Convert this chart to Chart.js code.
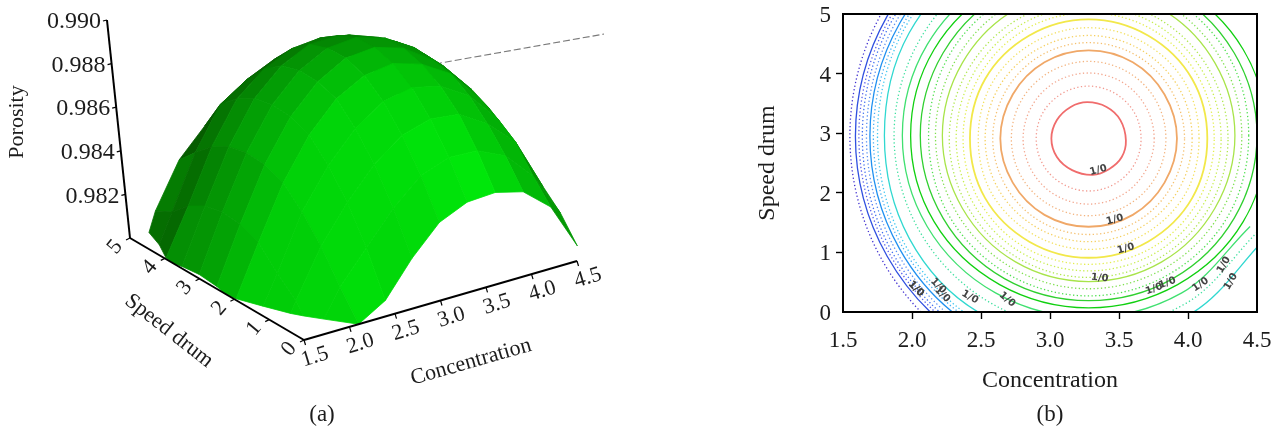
<!DOCTYPE html>
<html><head><meta charset="utf-8">
<style>
html,body{margin:0;padding:0;background:#fff;width:1273px;height:427px;overflow:hidden}
canvas{position:absolute;top:0}
#surface{left:0}
#contour{left:620px}
</style>
<script src="https://cdn.jsdelivr.net/npm/chart.js@4/dist/chart.umd.js"></script>
</head><body>
<canvas id="surface" width="620" height="427"></canvas>
<canvas id="contour" width="653" height="427"></canvas>
<script>
// ---------- panel (a): porosity ----------
const concentration = [1.5,1.8,2.1,2.4,2.7,3.0,3.3,3.6,3.9,4.2,4.5];
const speedDrum = [0,0.5,1,1.5,2,2.5,3,3.5,4,4.5,5];
const porosityS00 = [.97550,.97801,.98000,.98073,.98230,.98358,.98415,.98423,.98390,.98284,.98069];
const porosityS05 = [.97700,.97930,.98124,.98268,.98413,.98525,.98573,.98568,.98508,.98378,.98174];
const porosityS10 = [.97820,.98050,.98264,.98428,.98568,.98665,.98703,.98688,.98608,.98488,.98248];
const porosityS15 = [.97910,.98130,.98376,.98550,.98685,.98772,.98800,.98770,.98690,.98548,.98320];
const porosityS20 = [.97985,.98224,.98460,.98644,.98774,.98845,.98864,.98824,.98744,.98594,.98399];
const porosityS25 = [.98012,.98261,.98497,.98681,.98806,.98878,.98891,.98851,.98761,.98626,.98463];
const porosityS30 = [.98020,.98270,.98506,.98690,.98810,.98877,.98890,.98850,.98770,.98650,.98505];
const porosityS35 = [.98010,.98251,.98487,.98671,.98786,.98848,.98851,.98801,.98751,.98656,.98511];
const porosityS40 = [.97990,.98204,.98440,.98624,.98724,.98781,.98794,.98771,.98724,.98624,.98464];
const porosityS45 = [.97900,.98130,.98366,.98550,.98630,.98687,.98710,.98710,.98660,.98550,.98390];
const porosityS50 = [.97800,.98088,.98285,.98405,.98505,.98563,.98600,.98621,.98568,.98448,.98288];
const porosityGrid = [porosityS00,porosityS05,porosityS10,porosityS15,porosityS20,porosityS25,porosityS30,porosityS35,porosityS40,porosityS45,porosityS50];
const porosityTicks = [0.982,0.984,0.986,0.988,0.990];
const concTicks = [1.5,2.0,2.5,3.0,3.5,4.0,4.5];
const speedTicks = [0,1,2,3,4,5];
const leaderX = [435,604];
const leaderY = [64,34];

// ---------- panel (b): contour lines ----------
const c01X=[3.55,3.51,3.41,3.27,3.15,3.05,3.01,3.05,3.16,3.31,3.43,3.52];
const c01Y=[2.88,3.22,3.44,3.52,3.44,3.22,2.91,2.60,2.38,2.30,2.40,2.60];
const c02X=[3.66,3.61,3.47,3.28,3.09,2.95,2.90,2.95,3.09,3.28,3.47,3.61];
const c02Y=[2.91,3.35,3.67,3.79,3.67,3.35,2.91,2.47,2.15,2.03,2.15,2.47];
const c03X=[3.755,3.69,3.52,3.28,3.04,2.87,2.805,2.87,3.04,3.28,3.52,3.69];
const c03Y=[2.91,3.46,3.86,4.01,3.86,3.46,2.91,2.36,1.96,1.81,1.96,2.36];
const c04X=[3.84,3.765,3.56,3.28,3.00,2.795,2.72,2.795,3.00,3.28,3.56,3.765];
const c04Y=[2.91,3.56,4.03,4.205,4.03,3.56,2.91,2.26,1.79,1.615,1.79,2.26];
const c05X=[3.92,3.83,3.60,3.28,2.96,2.73,2.64,2.73,2.96,3.28,3.60,3.83];
const c05Y=[2.91,3.65,4.19,4.39,4.19,3.65,2.91,2.17,1.63,1.43,1.63,2.17];
const c06X=[3.975,3.88,3.63,3.28,2.93,2.68,2.585,2.68,2.93,3.28,3.63,3.88];
const c06Y=[2.91,3.71,4.30,4.52,4.30,3.71,2.91,2.11,1.52,1.30,1.52,2.11];
const c07X=[4.03,3.93,3.65,3.28,2.91,2.63,2.53,2.63,2.91,3.28,3.65,3.93];
const c07Y=[2.91,3.775,4.41,4.64,4.41,3.775,2.91,2.045,1.41,1.18,1.41,2.045];
const c08X=[4.08,3.98,3.68,3.28,2.88,2.58,2.48,2.58,2.88,3.28,3.68,3.98];
const c08Y=[2.91,3.84,4.52,4.77,4.52,3.84,2.91,1.98,1.30,1.05,1.30,1.98];
const c09X=[4.14,4.03,3.71,3.28,2.85,2.53,2.42,2.53,2.85,3.28,3.71,4.03];
const c09Y=[2.91,3.91,4.64,4.91,4.64,3.91,2.91,1.91,1.18,.91,1.18,1.91];
const c10X=[4.19,4.07,3.74,3.28,2.82,2.49,2.37,2.49,2.82,3.28,3.74,4.07];
const c10Y=[2.91,3.965,4.74,5.02,4.74,3.965,2.91,1.855,1.08,.80,1.08,1.855];
const c11X=[4.24,4.11,3.76,3.28,2.80,2.45,2.32,2.45,2.80,3.28,3.76,4.11];
const c11Y=[2.91,4.02,4.835,5.13,4.835,4.02,2.91,1.80,.985,.69,.985,1.80];
const c12X=[4.29,4.15,3.78,3.28,2.78,2.41,2.27,2.41,2.78,3.28,3.78,4.15];
const c12Y=[2.91,4.08,4.93,5.24,4.93,4.08,2.91,1.74,.89,.58,.89,1.74];
const c13X=[4.34,4.195,3.81,3.28,2.75,2.365,2.22,2.365,2.75,3.28,3.81,4.195];
const c13Y=[2.96,4.18,5.08,5.41,5.08,4.18,2.96,1.74,.84,.51,.84,1.74];
const c14X=[4.39,4.24,3.835,3.28,2.725,2.32,2.17,2.32,2.725,3.28,3.835,4.24];
const c14Y=[2.96,4.24,5.18,5.53,5.18,4.24,2.96,1.68,.74,.39,.74,1.68];
const c15X=[4.44,4.29,3.86,3.28,2.70,2.27,2.12,2.27,2.70,3.28,3.86,4.29];
const c15Y=[2.96,4.31,5.29,5.65,5.29,4.31,2.96,1.61,.63,.27,.63,1.61];
const c16X=[4.50,4.335,3.89,3.28,2.67,2.225,2.06,2.225,2.67,3.28,3.89,4.335];
const c16Y=[2.96,4.345,5.36,5.73,5.36,4.345,2.96,1.575,.56,.19,.56,1.575];
const c17X=[4.57,4.40,3.925,3.28,2.635,2.16,1.99,2.16,2.635,3.28,3.925,4.40];
const c17Y=[2.96,4.405,5.46,5.85,5.46,4.405,2.96,1.515,.46,.07,.46,1.515];
const c18X=[3.28,2.605,2.11,1.93,2.11,2.605,3.28,3.955,4.45];
const c18Y=[6.01,5.60,4.485,2.96,1.435,.32,-.09,.32,1.435];
const c19X=[3.28,2.575,2.06,1.87,2.06,2.575,3.28,3.985,4.50];
const c19Y=[6.21,5.775,4.585,2.96,1.335,.145,-.29,.145,1.335];
const c20X=[3.28,2.52,1.98,1.80,1.98,2.50,3.28,4.02,4.56];
const c20Y=[6.41,5.95,4.685,2.96,1.235,-.03,-.49,-.03,1.235];
const c21X=[3.28,2.51,1.95,1.75,1.95,2.51,3.28];
const c21Y=[6.60,6.11,4.775,2.95,1.125,-.21,-.70];
const c22X=[3.28,2.50,1.93,1.72,1.93,2.50,3.28];
const c22Y=[6.66,6.16,4.805,2.95,1.095,-.26,-.76];
const c23X=[3.28,2.49,1.91,1.695,1.91,2.49,3.28];
const c23Y=[6.73,6.22,4.84,2.95,1.06,-.32,-.83];
const c24X=[3.28,2.47,1.885,1.67,1.885,2.47,3.28];
const c24Y=[6.80,6.28,4.875,2.95,1.025,-.38,-.90];
const c25X=[3.28,2.46,1.86,1.64,1.86,2.46,3.28];
const c25Y=[6.87,6.345,4.91,2.95,.99,-.445,-.97];
const c26X=[3.28,2.45,1.84,1.615,1.84,2.45,3.28];
const c26Y=[6.92,6.39,4.935,2.95,.965,-.49,-1.02];
const c27X=[3.28,2.44,1.82,1.59,1.82,2.44,3.28];
const c27Y=[6.98,6.44,4.965,2.95,.935,-.54,-1.08];
const c28X=[3.28,2.41,1.78,1.55,1.78,2.41,3.28];
const c28Y=[7.08,6.53,5.015,2.95,.885,-.63,-1.18];
const contourLabelX=[3.35,3.47,3.55,3.36,3.755,3.85,4.09,4.26,4.31,2.69,2.42,2.19,2.22,2.03,2.03];
const contourLabelY=[2.38,1.55,1.06,.57,.385,.486,.46,.79,.51,.21,.25,.44,.29,.39,.39];
const contourLabelText="1/0";
const mapXTicks=[1.5,2.0,2.5,3.0,3.5,4.0,4.5];

// ---------- styles ----------
const SERIF='"Liberation Serif","Times New Roman",serif';
const TXT='#1c1c1c';
Chart.defaults.animation=false;
Chart.defaults.font.family=SERIF;
Chart.defaults.color=TXT;

// ---------- panel (a) projection from (concentration, speed, porosity) to the hidden scales ----------
function project(c,s,z){
  const bx=304+(c-1.5)/3*273-s/5*174;
  const by=340-(c-1.5)/3*79-s/5*102;
  const h=(z-0.98)/0.01;
  return {x:bx+h*0.0638*(bx-491), y:by-h*218};
}
function clipBase(poly){
  const out=[],F=0.98;
  poly.forEach((a,i)=>{
    const b=poly[(i+1)%poly.length];
    if(a[2]>=F) out.push(a);
    if((a[2]>=F)!==(b[2]>=F)){
      const t=(F-a[2])/(b[2]-a[2]);
      out.push([a[0]+t*(b[0]-a[0]),a[1]+t*(b[1]-a[1]),F]);
    }
  });
  return out;
}
// shading: facets turned toward the viewer are bright, facets near the outline dark
function facetColor(fc,fs){
  const rise=Math.max(0,Math.min(1,fc/0.006))*Math.max(0,Math.min(1,1+fs/0.002));
  const A=(fs-0.003)*26700*(1-0.5*rise);
  const B=fc>=0 ? fc*8000*(1-0.5*Math.max(0,Math.min(1,fs/0.002))) : fc*16000;
  const gain=1-0.3*Math.max(0,Math.min(1,fs/0.001));
  const g=Math.max(92,Math.min(232,232-gain*Math.hypot(A,B)));
  const k=(g-92)/140;
  return `rgb(${Math.round(6*(1-k))},${Math.round(g)},${Math.round(10*k)})`;
}
const surfaceSets=[];
const axisStyle={showLine:true,pointRadius:0,borderColor:'#000',borderWidth:2,fill:false,tension:0};
surfaceSets.push({...axisStyle,data:[project(1.5,5,0.98),project(1.5,5,0.99)]});
surfaceSets.push({...axisStyle,data:[project(1.5,0,0.98),project(1.5,5,0.98)]});
surfaceSets.push({...axisStyle,data:[project(1.5,0,0.98),project(4.5,0,0.98)]});
for(let j=0;j<speedDrum.length-1;j++){
  for(let i=0;i<concentration.length-1;i++){
    const c0=concentration[i],c1=concentration[i+1],s0=speedDrum[j],s1=speedDrum[j+1];
    const a=porosityGrid[j][i],b=porosityGrid[j][i+1],d=porosityGrid[j+1][i+1],e=porosityGrid[j+1][i];
    const poly=clipBase([[c0,s0,a],[c1,s0,b],[c1,s1,d],[c0,s1,e]]);
    if(poly.length<3) continue;
    const fc=(b+d-a-e)/2/(c1-c0), fs=(d+e-a-b)/2/(s1-s0);
    const col=facetColor(fc,fs);
    const pts=poly.map(p=>project(p[0],p[1],p[2]));
    pts.push(pts[0]);
    surfaceSets.push({data:pts,showLine:true,pointRadius:0,tension:0,borderColor:col,borderWidth:0.8,backgroundColor:col,fill:'shape'});
  }
}
surfaceSets.push({data:leaderX.map((x,i)=>({x,y:leaderY[i]})),showLine:true,pointRadius:0,borderColor:'#7a7a7a',borderWidth:1.2,borderDash:[7,3],fill:false});

function text(ctx,str,x,y,rot,size){
  ctx.save();ctx.translate(x,y);ctx.rotate(rot*Math.PI/180);
  ctx.font=`${size}px ${SERIF}`;ctx.fillStyle=TXT;ctx.textAlign='center';ctx.textBaseline='middle';
  ctx.fillText(str,0,0);ctx.restore();
}
const surfaceLabels={id:'surfaceLabels',afterDatasetsDraw(chart){
  const {ctx,scales:{x:X,y:Y}}=chart;
  const line=(p,dx,dy)=>{const a=X.getPixelForValue(p.x),b=Y.getPixelForValue(p.y);
    ctx.beginPath();ctx.moveTo(a,b);ctx.lineTo(a+dx,b+dy);ctx.strokeStyle='#000';ctx.lineWidth=1.2;ctx.stroke();};
  porosityTicks.forEach(z=>{
    const p=project(1.5,5,z);
    line(p,-4,1);
    text(ctx,z.toFixed(3),X.getPixelForValue(p.x)-33,Y.getPixelForValue(p.y)+2,0,24);
  });
  concTicks.forEach(c=>{
    const p=project(c,0,0.98);
    line(p,1.5,5);
    text(ctx,c.toFixed(1),X.getPixelForValue(p.x)+11,Y.getPixelForValue(p.y)+17,-17,22);
  });
  speedTicks.forEach(s=>{
    const p=project(1.5,s,0.98);
    line(p,-4,2);
    text(ctx,String(s),X.getPixelForValue(p.x)-15,Y.getPixelForValue(p.y)+9,-50,22);
  });
  text(ctx,'Porosity',17,122,-90,22);
  text(ctx,'Speed drum',169,331,38,22);
  text(ctx,'Concentration',471,362,-16,22);
  text(ctx,'(a)',322,415,0,23);
}};
new Chart(document.getElementById('surface'),{
  type:'scatter',
  data:{datasets:surfaceSets},
  options:{responsive:false,layout:{padding:0},
    plugins:{legend:{display:false},tooltip:{enabled:false},title:{display:false}},
    scales:{x:{type:'linear',min:0,max:620,display:false},y:{type:'linear',min:0,max:427,reverse:true,display:false}}},
  plugins:[surfaceLabels]
});

// ---------- panel (b) ----------
const contourPaths=[[c01X,c01Y],[c02X,c02Y],[c03X,c03Y],[c04X,c04Y],[c05X,c05Y],[c06X,c06Y],[c07X,c07Y],[c08X,c08Y],[c09X,c09Y],[c10X,c10Y],[c11X,c11Y],[c12X,c12Y],[c13X,c13Y],[c14X,c14Y],[c15X,c15Y],[c16X,c16Y],[c17X,c17Y],[c18X,c18Y],[c19X,c19Y],[c20X,c20Y],[c21X,c21Y],[c22X,c22Y],[c23X,c23Y],[c24X,c24Y],[c25X,c25Y],[c26X,c26Y],[c27X,c27Y],[c28X,c28Y]];
const contourColors=['#f06c6c','#f29a90','#f3a890','#f3b480','#f0a868','#f5c070','#f5d060','#f3e060','#f2e84a','#e4ee50','#c8ee50','#b0e850','#a8e44a','#80e050','#50e050','#30d030','#10d010','#40e070','#40e0a0','#30d8d0','#40c8f0','#4ab0f4','#2090f0','#5a90f2','#4070f0','#5a60ea','#3050e0','#4030d0'];
const contourSolid=[1,0,0,0,1,0,0,0,1,0,0,0,1,0,0,1,1,1,0,1,0,0,1,0,0,0,1,0];
const contourSets=contourPaths.map(([xs,ys],i)=>{
  let pts=xs.map((x,k)=>({x,y:ys[k]}));
  const closed=i<17;
  if(closed) pts=[pts[pts.length-1],...pts,pts[0],pts[1]];
  const n=pts.length;
  const solid=contourSolid[i]===1;
  return {data:pts,showLine:true,pointRadius:0,tension:0.35,fill:false,
    segment:closed?{borderColor:c=>(c.p0DataIndex===0||c.p1DataIndex===n-1)?'rgba(0,0,0,0)':undefined}:undefined,
    borderColor:contourColors[i],borderWidth:solid?(i<12?1.8:1.3):1.3,borderDash:solid?[]:[1.3,2.4]};
});
const labelRot=[-15,-15,-15,5,-20,-20,-35,-60,-60,40,30,45,45,45,45];
const mapDecor={id:'mapDecor',afterDatasetsDraw(chart){
  const {ctx,chartArea:a,scales:{x:X,y:Y}}=chart;
  contourLabelX.forEach((v,i)=>{
    ctx.save();ctx.translate(X.getPixelForValue(v),Y.getPixelForValue(contourLabelY[i]));
    ctx.rotate(labelRot[i]*Math.PI/180);
    ctx.font='bold 10px "DejaVu Sans",sans-serif';ctx.fillStyle='#444';ctx.textAlign='center';ctx.textBaseline='middle';
    ctx.fillText(contourLabelText,0,0);ctx.restore();
  });
  ctx.save();ctx.strokeStyle='#000';ctx.lineWidth=2;ctx.strokeRect(a.left,a.top,a.right-a.left,a.bottom-a.top);ctx.restore();
  text(ctx,'(b)',1050-620,415,0,23);
}};
const endTick=ends=>c=>ends.includes(c.tick&&c.tick.value)?'rgba(0,0,0,0)':'#000';
new Chart(document.getElementById('contour'),{
  type:'scatter',
  data:{datasets:contourSets},
  options:{responsive:false,
    elements:{line:{capBezierPoints:false}},
    layout:{padding:{left:133,top:14,right:16,bottom:32},autoPadding:false},
    plugins:{legend:{display:false},tooltip:{enabled:false},title:{display:false}},
    scales:{
      x:{type:'linear',min:1.5,max:4.5,
        afterBuildTicks(s){s.ticks=mapXTicks.map(value=>({value}));},
        afterFit(s){s.height=83;s.paddingLeft=0;s.paddingRight=0;},
        border:{display:false},
        grid:{drawOnChartArea:false,drawTicks:true,tickLength:7,tickWidth:1.4,tickColor:endTick([1.5,4.5])},
        ticks:{autoSkip:false,maxRotation:0,padding:8,color:TXT,font:{size:23},callback:v=>Number(v).toFixed(1)},
        title:{display:true,text:'Concentration',color:TXT,font:{size:24},padding:0}},
      y:{type:'linear',min:0,max:5,
        afterFit(s){s.width=90;s.paddingTop=0;s.paddingBottom=0;},
        border:{display:false},
        grid:{drawOnChartArea:false,drawTicks:true,tickLength:7,tickWidth:1.4,tickColor:endTick([0,5])},
        ticks:{stepSize:1,padding:5,labelOffset:2,color:TXT,font:{size:23}},
        title:{display:true,text:'Speed drum',color:TXT,font:{size:24},padding:0}}
    }},
  plugins:[mapDecor]
});
</script>
</body></html>
